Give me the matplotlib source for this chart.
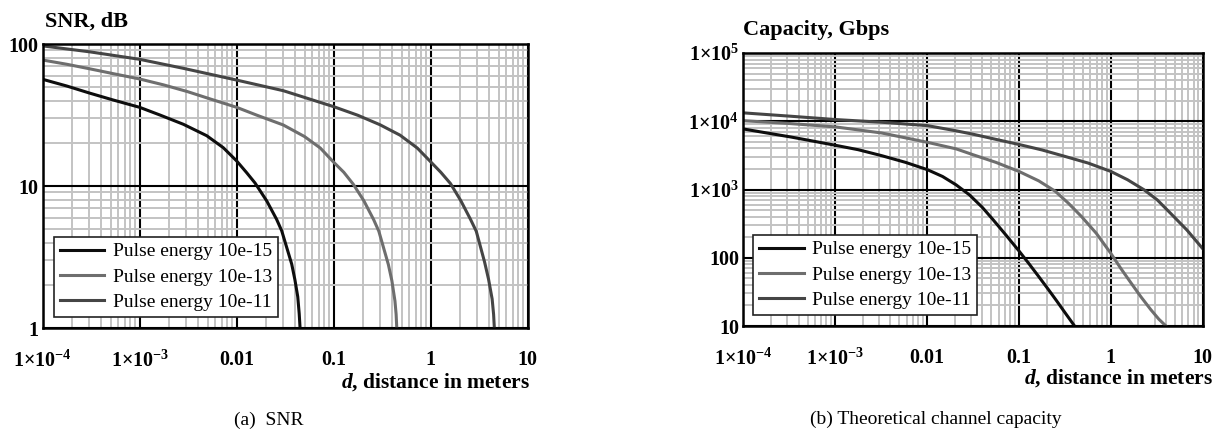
import matplotlib
matplotlib.use("Agg")
import matplotlib.pyplot as plt
from matplotlib.ticker import LogLocator, NullFormatter

plt.rcParams['font.family'] = ['Liberation Serif', 'DejaVu Serif']
plt.rcParams['mathtext.fontset'] = 'custom'
plt.rcParams['mathtext.rm'] = 'Liberation Serif:bold'
plt.rcParams['mathtext.bf'] = 'Liberation Serif:bold'
plt.rcParams['mathtext.it'] = 'Liberation Serif:italic:bold'

# ---------------- data ----------------
series_labels = ["Pulse energy 10e-15", "Pulse energy 10e-13", "Pulse energy 10e-11"]

# (a) SNR, dB vs distance d (m)
snr_d_15 = [1e-4, 1.77e-4, 3.08e-4, 5.35e-4, 1e-3, 1.62e-3, 2.82e-3, 4.91e-3, 7.28e-3, 0.01,
            0.01268, 0.01545, 0.0204, 0.0258, 0.0291, 0.0369, 0.0398, 0.0426, 0.0441, 0.045]
snr_15 = [56.4, 50.6, 45.0, 40.3, 35.8, 31.6, 27.2, 22.6, 18.6, 15.0,
          12.4, 10.5, 7.85, 5.82, 4.84, 2.82, 2.19, 1.66, 1.26, 1.0]

snr_d_13 = [1e-4, 1.77e-4, 3.08e-4, 5.35e-4, 1e-3, 1.77e-3, 3.08e-3, 5.35e-3, 0.01, 0.0162,
            0.0302, 0.05, 0.0728, 0.099, 0.127, 0.159, 0.204, 0.258, 0.292, 0.366, 0.398, 0.428, 0.44, 0.447]
snr_13 = [77.1, 72.0, 66.8, 61.8, 56.7, 51.5, 46.3, 41.0, 35.8, 31.5,
          26.9, 22.3, 18.5, 14.8, 12.5, 10.3, 7.9, 5.8, 4.8, 2.8, 2.15, 1.55, 1.25, 1.0]

snr_d_11 = [1e-4, 3.08e-4, 1e-3, 2.82e-3, 0.01, 0.0302, 0.1, 0.177, 0.3, 0.483, 0.728, 1.0,
            1.27, 1.6, 2.04, 2.58, 2.95, 3.6, 3.95, 4.3, 4.45, 4.53]
snr_11 = [97.0, 88.0, 78.0, 67.4, 55.7, 46.9, 36.2, 31.5, 27.0, 22.8, 18.5, 14.8,
          12.5, 10.4, 7.9, 5.8, 4.8, 2.9, 2.2, 1.6, 1.25, 1.0]

# (b) Capacity, Gbps vs distance d (m)
cap_d_15 = [1e-4, 1.81e-4, 3.27e-4, 5.92e-4, 1.01e-3, 1.78e-3, 3.21e-3, 5.82e-3, 0.0101, 0.01476,
            0.0207, 0.029, 0.0398, 0.0513, 0.0724, 0.1, 0.129, 0.164, 0.209, 0.257, 0.316, 0.389, 0.403]
cap_15 = [7710, 6730, 5890, 5080, 4440, 3830, 3130, 2500, 1950, 1550,
          1170, 832, 550, 372, 214, 126, 81.3, 53.1, 34.3, 23.4, 15.8, 10.7, 10]

cap_d_13 = [1e-4, 3.27e-4, 1.01e-3, 3.21e-3, 0.0101, 0.0207, 0.0315, 0.0561, 0.1, 0.164, 0.248,
            0.345, 0.48, 0.695, 1.0, 1.29, 1.66, 2.12, 2.72, 3.33, 3.98]
cap_13 = [10200, 9240, 8260, 6730, 4910, 3940, 3240, 2500, 1840, 1340, 944,
          630, 401, 228, 116, 69.2, 42.7, 26.9, 17.4, 12.6, 10]

cap_d_11 = [1e-4, 3.27e-4, 1.01e-3, 3.21e-3, 0.0101, 0.0207, 0.0316, 0.0561, 0.1, 0.178, 0.318,
            0.566, 1.0, 1.52, 2.3, 3.2, 4.46, 6.73, 10.0]
cap_11 = [13270, 11850, 10590, 9670, 8630, 7240, 6460, 5430, 4570, 3800, 3050,
          2440, 1840, 1390, 990, 705, 449, 255, 136]

x_ticks = [1e-4, 1e-3, 0.01, 0.1, 1, 10]
x_ticklabels = [r'$1{\times}10^{-4}$', r'$1{\times}10^{-3}$', '0.01', '0.1', '1', '10']
snr_yticks = [1, 10, 100]
snr_yticklabels = ['1', '10', '100']
cap_yticks = [10, 100, 1e3, 1e4, 1e5]
cap_yticklabels = ['10', '100', r'$1{\times}10^{3}$', r'$1{\times}10^{4}$', r'$1{\times}10^{5}$']

colors = ['#0d0d0d', '#6e6e6e', '#454545']

# ---------------- figure ----------------
W, H = 1225, 432
fig = plt.figure(figsize=(W / 100, H / 100), dpi=100)

ax1 = fig.add_axes([42.7 / W, 1 - 328 / H, 485 / W, 284 / H])
ax2 = fig.add_axes([743.3 / W, 1 - 326 / H, 459.4 / W, 273 / H])


def style(ax, yticks, ylabels, ylim):
    ax.set_xscale('log')
    ax.set_yscale('log')
    ax.set_xlim(1e-4, 10)
    ax.set_ylim(*ylim)
    ax.xaxis.set_minor_locator(LogLocator(base=10, subs=range(2, 10), numticks=50))
    ax.yaxis.set_minor_locator(LogLocator(base=10, subs=range(2, 10), numticks=50))
    ax.xaxis.set_minor_formatter(NullFormatter())
    ax.yaxis.set_minor_formatter(NullFormatter())
    ax.set_xticks(x_ticks, labels=x_ticklabels)
    ax.set_yticks(yticks, labels=ylabels)
    ax.tick_params(which='both', length=0)
    ax.tick_params(axis='x', pad=16, labelsize=14.5)
    ax.tick_params(axis='y', pad=3, labelsize=14.5)
    for lab in ax.get_xticklabels() + ax.get_yticklabels():
        lab.set_fontweight('bold')
    ax.grid(which='minor', color='#c3c3c3', linewidth=1.4)
    ax.grid(which='major', color='black', linewidth=1.5)
    ax.set_axisbelow(True)
    for sp in ax.spines.values():
        sp.set_linewidth(1.8)
        sp.set_color('black')


style(ax1, snr_yticks, snr_yticklabels, (1, 100))
style(ax2, cap_yticks, cap_yticklabels, (10, 1e5))

for d, v, c, lab in zip([snr_d_15, snr_d_13, snr_d_11], [snr_15, snr_13, snr_11], colors, series_labels):
    ax1.plot(d, v, color=c, linewidth=2.2, label=lab, solid_joinstyle='round')
for d, v, c, lab in zip([cap_d_15, cap_d_13, cap_d_11], [cap_15, cap_13, cap_11], colors, series_labels):
    ax2.plot(d, v, color=c, linewidth=2.2, label=lab, solid_joinstyle='round')

for ax, anchor in [(ax1, (0.023, 0.039)), (ax2, (0.021, 0.04))]:
    leg = ax.legend(loc='lower left', bbox_to_anchor=anchor, borderaxespad=0,
                    fontsize=14, fancybox=False, framealpha=1, edgecolor='#222222',
                    handlelength=2.3, handletextpad=0.45, labelspacing=0.4,
                    borderpad=0.3)
    leg.get_frame().set_linewidth(1.2)

# titles
fig.text(45 / W, 1 - 22 / H, 'SNR, dB', fontsize=16, fontweight='bold', va='center', ha='left')
fig.text(743 / W, 1 - 30 / H, 'Capacity, Gbps', fontsize=16, fontweight='bold', va='center', ha='left')

# x labels
for ax, xr in ((ax1, 1.005), (ax2, 1.022)):
    ax.text(xr, -0.19, r'$\mathit{d}$, distance in meters', transform=ax.transAxes,
            ha='right', va='center', fontsize=15.5, fontweight='bold')

# captions
fig.text(269 / W, 1 - 420 / H, '(a)  SNR', fontsize=14, ha='center', va='center')
fig.text(936 / W, 1 - 419 / H, '(b) Theoretical channel capacity', fontsize=14, ha='center', va='center')

fig.savefig('out.png', dpi=100)
